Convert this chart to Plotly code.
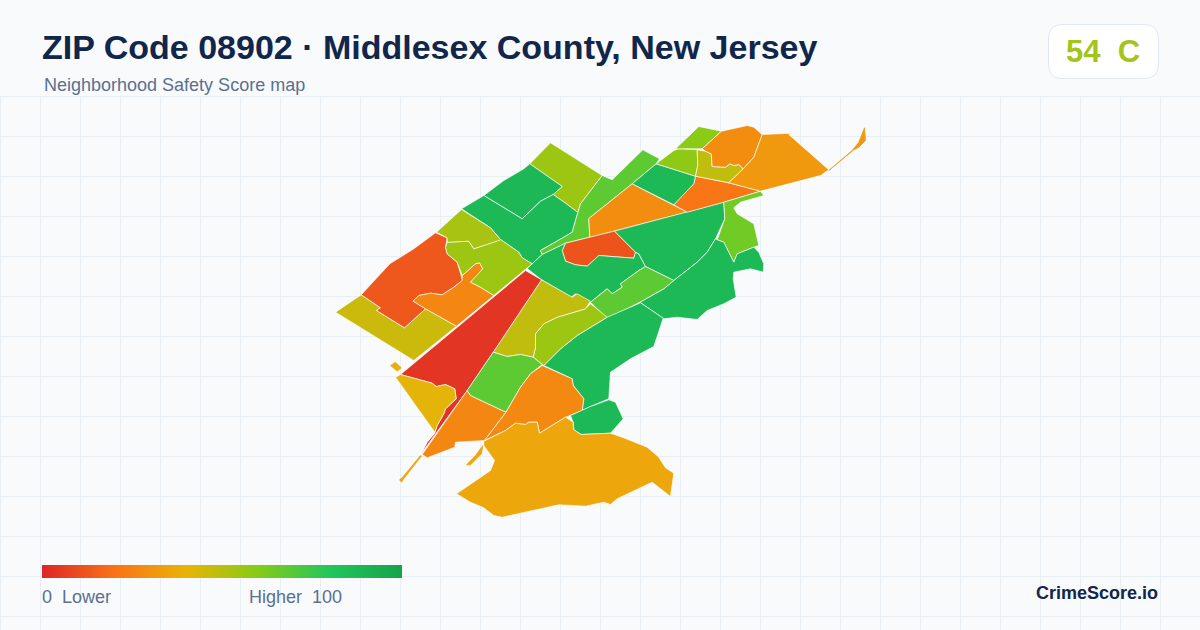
import plotly.graph_objects as go
from plotly.colors import sample_colorscale

W, H = 1200, 630

title_text = "ZIP Code 08902 · Middlesex County, New Jersey"
subtitle_text = "Neighborhood Safety Score map"
badge_text = "54&nbsp;&nbsp;C"
legend_low = "0&nbsp;&nbsp;Lower"
legend_high = "Higher&nbsp;&nbsp;100"
brand_text = "CrimeScore.io"

score_stops = [0, 0.2, 0.4, 0.6, 0.8, 1]
score_colors = ["#dc2626", "#f97316", "#eab308", "#84cc16", "#22c55e", "#16a34a"]

# Boundaries are data, in map units.
north_ridge = [(550,142.3),(601.7,175),(580,203.3),(577.3,212),(565,202.7),(552.7,194),(561.7,186),(529.3,163.3)]
north_green = [(529.3,163.3),(561.7,186),(552.7,194),(540,200.7),(521.7,218.3),(483.3,195),(503.3,180),(523.3,168.3)]
west_green = [(483.3,195),(521.7,218.3),(540,200.7),(552.7,194),(565,202.7),(577.3,212),(575,220),(571.7,231.7),(563.3,236.7),(540,250),(541.7,254),(531.7,263.3),(521.7,257.3),(518.3,251.7),(500,239),(490,227.3),(461,208.3)]
north_strip = [(601.7,175),(611.7,179.3),(642.3,149.3),(659,158.3),(655.7,163.3),(631.7,183.3),(590,216.7),(588.3,218.3),(589.3,236.7),(565,242.7),(541.7,254),(540,250),(563.3,236.7),(571.7,231.7),(575,220),(577.3,212),(580,203.3)]
wedge_orange = [(631.7,183.3),(686.7,211.7),(589.3,236.9),(588.3,218.3),(590,216.7)]
inner_red = [(565,242.7),(614,230.6),(635,251.7),(633.3,257.7),(598.3,255),(586.7,265.7),(575,264.3),(565,260.7),(561.7,250)]
center_green = [(526.7,268),(541.7,254),(565,242.7),(561.7,250),(565,260.7),(575,264.3),(586.7,265.7),(598.3,255),(633.3,257.7),(635,251.7),(638.3,253.3),(645,266),(638.3,270),(620,283.3),(621.7,286.7),(611.7,293.3),(606.7,288.3),(590,301.7),(575,293.3),(570.7,296.7),(540.7,279)]
east_green = [(614,230.6),(723.3,201.7),(724.3,218.3),(715,238.3),(706.7,251.7),(696.7,261.7),(673.3,280),(645,266),(638.3,253.3),(635,251.7)]
river_orange = [(695,175.7),(728.3,182.3),(760,190.7),(723.3,201.7),(686.7,211.7),(673.3,204.3),(683.3,193.3),(693.3,183.3)]
upper_green = [(655.7,163.3),(695,175.7),(693.3,183.3),(673.3,204.3),(631.7,183.3)]
upper_lime = [(655.7,163.3),(673.3,150),(678.3,148.3),(696.7,149.3),(697.3,165),(695,175.7)]
top_lime = [(675,148.3),(698.3,126),(721,130.7),(701.7,148.3)]
top_olive = [(696.7,149.3),(705,150.7),(710.7,153.3),(711.7,166),(725,166.7),(729.3,163.3),(733.3,165),(738.3,164),(742.7,168.3),(728.3,182.3),(695,175.7),(697.3,165)]
top_orange = [(701.7,148.3),(721,130.7),(746.7,125),(753.3,126.7),(761.7,134),(753.3,156.7),(742.7,168.3),(738.3,164),(733.3,165),(729.3,163.3),(725,166.7),(711.7,166),(710.7,153.3),(705,150.7)]
northeast_amber = [(761.7,134),(786.7,132.7),(791.7,132.7),(788.3,134),(828.3,169.3),(820,175),(760,190.7),(728.3,182.3),(742.7,168.3),(753.3,156.7)]
bay_lime = [(723.3,201.7),(760,190.7),(763.3,195),(740,201.7),(733.3,207.3),(736.7,213.3),(753.3,223.3),(758.3,245),(753.3,246.7),(736.7,253.3),(733.3,261.7),(723.3,241.7),(716.7,239.3),(724.3,218.3)]
bay_green = [(716.7,239.3),(723.3,241.7),(733.3,261.7),(736.7,253.3),(753.3,246.7),(758.3,251.7),(763.3,263.3),(762.7,271.7),(750,268.3),(733.3,271.7),(732.7,278.3),(735.7,296.7),(723.3,303.3),(706.7,310),(696.7,319),(676.7,316.7),(663.3,318.3),(639.3,301.7),(663.3,288.3),(673.3,280),(696.7,261.7),(706.7,251.7),(715,238.3)]
middle_strip = [(645,266),(673.3,280),(663.3,288.3),(639.3,301.7),(606.7,318.3),(590,301.7),(606.7,288.3),(611.7,293.3),(621.7,286.7),(620,283.3),(638.3,270)]
south_green = [(640,302.3),(662.7,317.7),(653.3,346),(630,358.3),(610,371.7),(608.3,398.3),(590,406),(581.7,410),(583.3,398.3),(572.7,385),(571.7,378.3),(543.3,365),(560,348.3),(576.7,335),(606.7,316.7)]
mid_lime = [(590,303.3),(606.7,316.7),(576.7,335),(560,348.3),(543.3,365),(532.7,356.7),(535,346.7),(535,333.3),(543.3,323.3),(556.7,316.7),(585,308.3)]
mid_olive = [(541,279.3),(571.7,296.7),(576.7,293.3),(590,300.7),(585,308.3),(556.7,316.7),(543.3,323.3),(535,333.3),(535,346.7),(532.7,356.7),(520,354),(506.7,356),(492.7,351.7)]
red_wedge = [(525,270),(541,279.3),(492.7,351.7),(466.7,390),(421,452.7),(426.7,441.7),(434.3,432.7),(436.7,425),(443.3,413.3),(445,408.3),(455.7,398.3),(454.3,388.3),(445,384),(435.7,386),(431.7,382.7),(400,374)]
west_yellow = [(395,376.7),(400,374),(431.7,382.7),(435.7,386),(445,384),(454.3,388.3),(455.7,398.3),(445,408.3),(443.3,413.3),(436.7,425),(434.3,431.7)]
south_orange = [(466.7,390),(470,395),(505.5,411.7),(484,440),(455,441.7),(454.3,446.7),(426.7,457.3),(421.7,454)]
south_lime = [(492.7,351.7),(506.7,356),(520,354),(532.7,356.7),(541.7,364),(530,373.3),(520,386.7),(505.5,411.7),(470,395),(466.7,390)]
river_orange_south = [(541.7,365),(571.7,378.3),(572.7,385),(583.3,398.3),(581.7,410),(570,415),(565,416.7),(539,432.7),(536.7,421.7),(528.3,421.7),(525,424),(515,422.7),(505,430),(484,440),(505.5,411.7),(520,386.7),(530,373.3)]
small_green = [(570,415),(581.7,410),(590,406),(608.3,399.3),(615,401.7),(622.7,418.3),(610,432.7),(580.7,434),(573.3,429.3),(572.7,421.7)]
south_amber = [(483.3,440.7),(505,430),(515,422.7),(525,424),(528.3,421.7),(536.7,421.7),(539,432.7),(565,416.7),(572.7,421.7),(573.3,429.3),(580.7,434),(610,432.7),(623.3,437.3),(635,442.3),(646.7,446.7),(658.3,456.7),(665,467.3),(673.3,472.7),(670,496),(651.7,481.7),(616.7,498.3),(610,504),(603.3,501.7),(585,505.7),(558.3,504.3),(501.7,516.7),(493.3,515),(483.3,507.3),(470,501.7),(456,493.3),(490,470),(494,460),(483.3,445)]
west_olive = [(335,311.7),(360.7,294.3),(380,307.3),(376,310),(404,327.3),(425,308.3),(456,325.7),(413.3,360)]
west_red = [(360.7,294.3),(389.3,263.3),(413.3,248.3),(435,232.3),(446.7,237.3),(445,246.7),(446.7,253.3),(456.7,261.7),(460.7,275),(461.7,280),(453.3,286.7),(441.7,294.3),(430,292.7),(418.3,295),(412.7,300.7),(425,308.3),(404,327.3),(376,310),(380,307.3)]
west_orange = [(412.7,300.7),(418.3,295),(430,292.7),(441.7,294.3),(453.3,286.7),(461.7,280),(461.7,275),(475,263.3),(479,262.3),(482.3,268.3),(470,281.7),(480,286.7),(493.3,295),(456,325.7),(425,308.3)]
west_lime = [(446.7,241.7),(468.3,240.7),(473.3,248.3),(498.3,240),(500,239),(518.3,251.7),(521.7,257.3),(531.7,263.3),(493.3,295),(480,286.7),(470,281.7),(482.3,268.3),(479,262.3),(475,263.3),(461.7,275),(456.7,261.7),(446.7,253.3),(445,246.7)]
northwest_lime = [(436,231.7),(461,209),(490,227.3),(500,239),(498.3,240),(473.3,248.3),(468.3,240.7),(446.7,241.7),(446.7,237.3)]

# Detached slivers, outlined in their own colour
northeast_tail = [(828.3,170),(851.7,150),(858.3,141.7),(864,127.3),(865,140),(858.3,146.7),(853.3,149.3)]
south_tail = [(420,455),(401.7,477.3),(399,479.3),(401,481.7),(403,478.5),(421,455.5)]
amber_sliver = [(482.3,445),(481,453.3),(470,464.3),(466,464.3),(475,455)]
yellow_islet = [(390,365),(395,361.7),(400.7,367.3),(396.7,370.7)]

tract_shapes = [
    north_ridge, north_green, west_green, north_strip, wedge_orange, inner_red,
    center_green, east_green, river_orange, upper_green, upper_lime, top_lime,
    top_olive, top_orange, northeast_amber, bay_lime, bay_green, middle_strip,
    south_green, mid_lime, mid_olive, red_wedge, west_yellow,
    south_orange, south_lime, river_orange_south, small_green,
    south_amber, west_olive, west_red, west_orange, west_lime,
    northwest_lime,
]
tract_scores = [
    55, 88, 87, 68, 28, 12,
    87, 87, 21, 87, 58, 59,
    48, 28, 32, 64, 87, 68,
    87, 55, 48, 4, 41,
    26, 68, 27, 87,
    36, 46, 13, 26, 55,
    53,
]
sliver_shapes = [northeast_tail, south_tail, amber_sliver, yellow_islet]
sliver_scores = [32, 36, 36, 38]

colorscale = [[s, c] for s, c in zip(score_stops, score_colors)]
GRID = "#e8eff4"


def px_x(x):
    return x / W


def px_y(y):
    return 1 - y / H


def closed(points):
    return [p[0] for p in points] + [points[0][0]], [p[1] for p in points] + [points[0][1]]


def score_color(score):
    return sample_colorscale(colorscale, [score / 100])[0]


fig = go.Figure()

for piece, score in zip(tract_shapes, tract_scores):
    xs, ys = closed(piece)
    fig.add_trace(go.Scatter(
        x=xs, y=ys, mode="lines", fill="toself", fillcolor=score_color(score),
        line=dict(color="rgba(255,255,255,0.9)", width=0.75),
        hoverinfo="skip", showlegend=False,
    ))

for piece, score in zip(sliver_shapes, sliver_scores):
    xs, ys = closed(piece)
    fig.add_trace(go.Scatter(
        x=xs, y=ys, mode="lines", fill="toself", fillcolor=score_color(score),
        line=dict(color=score_color(score), width=0.75),
        hoverinfo="skip", showlegend=False,
    ))

# Score legend: native colorbar tied to the same colour scale
fig.add_trace(go.Scatter(
    x=[None, None], y=[None, None], mode="markers", showlegend=False, hoverinfo="skip",
    marker=dict(
        color=[0, 100], cmin=0, cmax=100, colorscale=colorscale, showscale=True,
        colorbar=dict(
            orientation="h", x=px_x(42), xanchor="left", y=px_y(578), yanchor="bottom",
            len=360, lenmode="pixels", thickness=13, thicknessmode="pixels",
            outlinewidth=0, borderwidth=0, xpad=0, ypad=0, ticks="", showticklabels=False,
        ),
    ),
))

fig.update_layout(
    width=W, height=H, autosize=False,
    margin=dict(l=0, r=0, t=0, b=0),
    paper_bgcolor="#f8fafc", plot_bgcolor="rgba(0,0,0,0)",
    font=dict(family="Liberation Sans, Arial, sans-serif"),
    xaxis=dict(range=[-0.5, W - 0.5], domain=[0, 1], tick0=0, dtick=40, showgrid=True,
               gridcolor=GRID, gridwidth=1, zeroline=False, showticklabels=False, ticks="",
               showline=False, fixedrange=True),
    yaxis=dict(range=[H - 0.5, 95.5], domain=[0, (H - 96) / H], tick0=96, dtick=40, showgrid=True,
               gridcolor=GRID, gridwidth=1, zeroline=False, showticklabels=False, ticks="",
               showline=False, fixedrange=True),
    shapes=[
        dict(type="line", xref="paper", yref="paper", layer="below",
             x0=px_x(0.5), x1=px_x(0.5), y0=px_y(96), y1=px_y(H), line=dict(color=GRID, width=1)),
        dict(type="line", xref="paper", yref="paper", layer="below",
             x0=0, x1=1, y0=px_y(96.5), y1=px_y(96.5), line=dict(color=GRID, width=1)),
        dict(
            type="path", xref="paper", yref="paper", layer="below",
            path=(
                f"M {px_x(1062)} {px_y(24.5)} L {px_x(1144)} {px_y(24.5)} "
                f"Q {px_x(1158.5)} {px_y(24.5)} {px_x(1158.5)} {px_y(39)} "
                f"L {px_x(1158.5)} {px_y(64)} Q {px_x(1158.5)} {px_y(78.5)} {px_x(1144)} {px_y(78.5)} "
                f"L {px_x(1062)} {px_y(78.5)} Q {px_x(1048.5)} {px_y(78.5)} {px_x(1048.5)} {px_y(64)} "
                f"L {px_x(1048.5)} {px_y(39)} Q {px_x(1048.5)} {px_y(24.5)} {px_x(1062)} {px_y(24.5)} Z"
            ),
            fillcolor="#ffffff", line=dict(color="#e2e8f0", width=1),
        ),
    ],
    annotations=[
        dict(text=f"<b>{title_text}</b>", x=px_x(41), y=px_y(47), xanchor="left", yanchor="middle",
             font=dict(size=34, color="#10264a")),
        dict(text=subtitle_text, x=px_x(43), y=px_y(85), xanchor="left", yanchor="middle",
             font=dict(size=18, color="#5a7090")),
        dict(text=f"<b>{badge_text}</b>", x=px_x(1103), y=px_y(51), xanchor="center", yanchor="middle",
             font=dict(size=31, color="#a3c41a")),
        dict(text=legend_low, x=px_x(41), y=px_y(597), xanchor="left", yanchor="middle",
             font=dict(size=18, color="#5a7090")),
        dict(text=legend_high, x=px_x(343), y=px_y(597), xanchor="right", yanchor="middle",
             font=dict(size=18, color="#5a7090")),
        dict(text=f"<b>{brand_text}</b>", x=px_x(1159), y=px_y(593), xanchor="right", yanchor="middle",
             font=dict(size=18, color="#10264a")),
    ],
)
for a in fig.layout.annotations:
    a.update(xref="paper", yref="paper", showarrow=False, borderpad=0)

fig.write_html("out.html", config=dict(displayModeBar=False),
               post_script="document.body.style.margin='0';document.documentElement.style.overflow='hidden';")
